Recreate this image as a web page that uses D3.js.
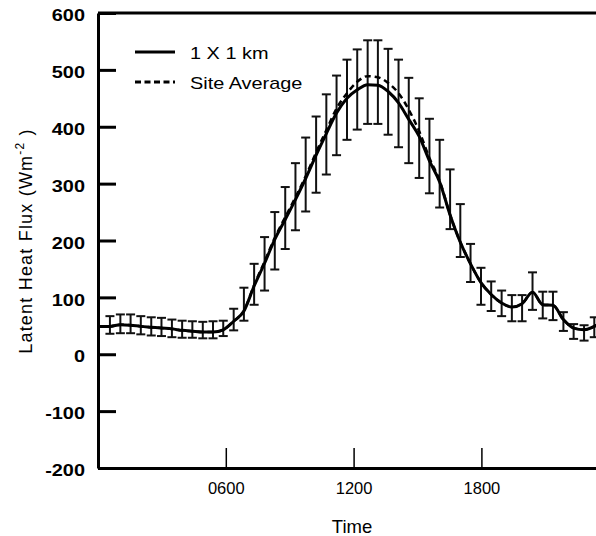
<!DOCTYPE html>
<html>
<head>
<meta charset="utf-8">
<script src="https://cdn.jsdelivr.net/npm/d3@7/dist/d3.min.js"></script>
<style>
body { margin: 0; background: #fff; }
svg text { font-family: "Liberation Sans", Arial, Helvetica, sans-serif; fill: #000; }
</style>
</head>
<body>
<svg id="chart" width="596" height="536"></svg>
<script>
// sample times (hours) and values
const hours = [0, 0.56, 1.05, 1.53, 2.01, 2.5, 2.98, 3.47, 3.95, 4.43, 4.92, 5.4, 5.88, 6.37, 6.85, 7.33,
  7.82, 8.3, 8.79, 9.27, 9.75, 10.24, 10.72, 11.2, 11.69, 12.17, 12.66, 13.14, 13.62, 14.11, 14.59,
  15.08, 15.56, 16.04, 16.53, 17.01, 17.49, 17.98, 18.46, 18.95, 19.43, 19.91, 20.4, 20.88, 21.36,
  21.85, 22.33, 22.82, 23.3, 23.45];
const oneKm = [49, 49, 52, 51, 49, 47.5, 46, 44.6, 42, 40.4, 39, 39, 43, 58, 76, 120, 160, 202, 237, 272,
  309, 350, 388, 424, 450, 465, 474, 473, 462, 442, 413, 383, 340, 303, 245, 197, 159, 126, 105, 90,
  83, 89, 109, 87, 86, 61, 46, 43, 49, 52];
const siteAvg = [49, 49, 52, 51, 49, 47.5, 46, 44.6, 42, 40.4, 39, 39, 43, 58, 76, 122, 163, 205, 241, 276,
  313, 355, 394, 432, 459, 479, 489, 487, 477, 459, 430, 392, 345, 305, 245, 197, 159, 126, 105, 90,
  83, 89, 109, 87, 86, 61, 46, 43, 49, 52];

// error bars (site spread)
const barHours = [0.56, 1.05, 1.53, 2.01, 2.5, 2.98, 3.47, 3.95, 4.43, 4.92, 5.4, 5.88, 6.37, 6.85, 7.33,
  7.82, 8.3, 8.79, 9.27, 9.75, 10.24, 10.72, 11.2, 11.69, 12.17, 12.66, 13.14, 13.62, 14.11, 14.59,
  15.08, 15.56, 16.04, 16.53, 17.01, 17.49, 17.98, 18.46, 18.95, 19.43, 19.91, 20.4, 20.88, 21.36,
  21.85, 22.33, 22.82, 23.3];
const barHigh = [67, 70, 70, 67, 65, 64, 61, 59, 58, 57, 58, 59, 80, 117, 159, 206, 250, 294, 336, 381,
  418, 457, 490, 518, 536, 552, 552, 537, 518, 486, 450, 414, 377, 325, 264, 194, 152, 128, 112, 104,
  104, 144, 110, 110, 74, 53, 51, 65];
const barLow = [36, 37, 37, 35, 33, 32, 30, 29, 29, 28, 28, 32, 42, 59, 87, 112, 149, 185, 218, 251,
  284, 316, 350, 377, 395, 405, 405, 386, 364, 336, 310, 283, 258, 220, 171, 127, 87, 76, 67, 58,
  58, 78, 63, 60, 41, 27, 24, 30];

const yTicks = [-200, -100, 0, 100, 200, 300, 400, 500, 600];
const xTicks = [6, 12, 18];
const xTickLabels = ['0600', '1200', '1800'];
const legendNames = ['1 X 1 km', 'Site Average'];

const W = 596, H = 536;
const plotLeft = 98, plotTop = 13, plotBottom = 468;
const stretch = 'scale(1.17,1)';   // the printed lettering is a bit wide

const svg = d3.select('#chart');

const x = d3.scaleLinear().domain([0, 24]).range([plotLeft, plotLeft + 24 * 21.3]);
const y = d3.scaleLinear().domain([-200, 600]).range([plotBottom, plotTop]);

// y axis, ticks pointing into the plot
const yAxis = d3.axisLeft(y).tickValues(yTicks).tickFormat(d => String(d))
  .tickSize(-18).tickSizeOuter(0).tickPadding(13);
const yg = svg.append('g')
  .attr('transform', `translate(${plotLeft},0)`)
  .call(yAxis);
yg.select('.domain').attr('stroke', '#000').attr('stroke-width', 3);
yg.selectAll('.tick line').attr('stroke', '#000').attr('stroke-width', 3);
yg.selectAll('.tick text')
  .attr('x', 0)
  .attr('dy', '0.45em')
  .attr('transform', `translate(-13,0) ${stretch}`)
  .attr('font-size', 17)
  .attr('font-weight', 'bold')
  .attr('font-family', '"Liberation Sans", Arial, sans-serif');

// x axis
const xAxis = d3.axisBottom(x).tickValues(xTicks).tickFormat((d, i) => xTickLabels[i])
  .tickSize(-20).tickSizeOuter(0).tickPadding(14);
const xg = svg.append('g')
  .attr('transform', `translate(0,${plotBottom})`)
  .call(xAxis);
xg.select('.domain').attr('stroke', '#000').attr('stroke-width', 3);
xg.selectAll('.tick line').attr('stroke', '#000').attr('stroke-width', 1.5);
xg.selectAll('.tick text')
  .attr('font-size', 16.5)
  .attr('font-family', '"Liberation Sans", Arial, sans-serif');

// top frame line
svg.append('line')
  .attr('x1', plotLeft).attr('x2', W)
  .attr('y1', y(600)).attr('y2', y(600))
  .attr('stroke', '#000').attr('stroke-width', 3);

// axis titles
svg.append('text')
  .attr('x', 352).attr('y', 533)
  .attr('text-anchor', 'middle')
  .attr('font-size', 18.5)
  .text('Time');

const ttl = svg.append('text')
  .attr('transform', 'translate(32,241) rotate(-90)')
  .attr('text-anchor', 'middle')
  .attr('font-size', 18)
  .attr('letter-spacing', 1.2);
ttl.append('tspan').text('Latent Heat Flux (Wm');
ttl.append('tspan').attr('dy', -8).attr('font-size', 12).text('-2');
ttl.append('tspan').attr('dy', 8).text(' )');

// error bars
const bars = svg.append('g').attr('stroke', '#111').attr('stroke-width', 2);
const capW = 4.5;
barHours.forEach((t, i) => {
  const cx = x(t);
  bars.append('line').attr('x1', cx).attr('x2', cx).attr('y1', y(barHigh[i])).attr('y2', y(barLow[i]));
  bars.append('line').attr('x1', cx - capW).attr('x2', cx + capW).attr('y1', y(barHigh[i])).attr('y2', y(barHigh[i]));
  bars.append('line').attr('x1', cx - capW).attr('x2', cx + capW).attr('y1', y(barLow[i])).attr('y2', y(barLow[i]));
});

// the two series
const line = d3.line()
  .x((d, i) => x(hours[i]))
  .y(d => y(d))
  .curve(d3.curveMonotoneX);

svg.append('path')
  .attr('d', line(siteAvg))
  .attr('fill', 'none')
  .attr('stroke', '#000')
  .attr('stroke-width', 2.5)
  .attr('stroke-dasharray', '6,4');

svg.append('path')
  .attr('d', line(oneKm))
  .attr('fill', 'none')
  .attr('stroke', '#000')
  .attr('stroke-width', 3);

// legend
const legend = svg.append('g');
legendNames.forEach((name, i) => {
  const ly = 52 + i * 30;
  legend.append('line')
    .attr('x1', 135).attr('x2', 175)
    .attr('y1', ly).attr('y2', ly)
    .attr('stroke', '#000')
    .attr('stroke-width', 3)
    .attr('stroke-dasharray', i === 1 ? '6,3.5' : null);
  legend.append('text')
    .attr('transform', `translate(190,${ly + 7}) ${stretch}`)
    .attr('font-size', 17)
    .text(name);
});
</script>
</body>
</html>
